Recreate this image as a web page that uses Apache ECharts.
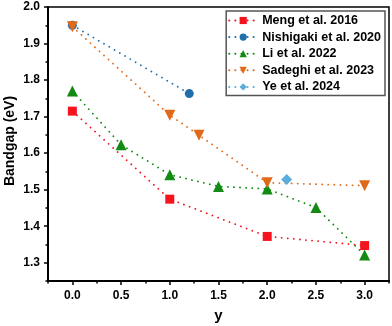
<!DOCTYPE html>
<html>
<head>
<meta charset="utf-8">
<script src="https://cdn.jsdelivr.net/npm/echarts@6/dist/echarts.min.js"></script>
<style>
  html, body { margin: 0; padding: 0; background: #fff; }
  #chart { width: 392px; height: 326px; }
</style>
</head>
<body>
<div id="chart"></div>
<script>
// data
var mengX = [0, 1, 2, 3];
var mengY = [1.715, 1.474, 1.372, 1.347];
var nishigakiX = [0, 1.2];
var nishigakiY = [1.950, 1.763];
var liX = [0, 0.5, 1, 1.5, 2, 2.5, 3];
var liY = [1.770, 1.623, 1.541, 1.509, 1.502, 1.451, 1.321];
var sadeghiX = [0, 1, 1.3, 2, 3];
var sadeghiY = [1.946, 1.704, 1.649, 1.519, 1.511];
var yeX = [2.2];
var yeY = [1.528];

var xMajor = [0, 0.5, 1, 1.5, 2, 2.5, 3];
var xMinor = [-0.25, 0.25, 0.75, 1.25, 1.75, 2.25, 2.75, 3.25];
var yMajor = [1.3, 1.4, 1.5, 1.6, 1.7, 1.8, 1.9, 2.0];
var yMinor = [1.25, 1.35, 1.45, 1.55, 1.65, 1.75, 1.85, 1.95];

function pairs(xs, ys) {
  var out = [];
  for (var i = 0; i < xs.length; i++) {
    out.push([xs[i], ys[i]]);
  }
  return out;
}

var labelFont = {
  fontFamily: "Liberation Sans, Arial",
  fontWeight: "bold",
  fontSize: 12,
  color: "#000"
};

function mkSeries(name, xs, ys, color, symbol, size, rotate) {
  return {
    name: name,
    type: "line",
    data: pairs(xs, ys),
    symbol: symbol,
    symbolSize: size,
    symbolRotate: rotate || 0,
    xAxisIndex: 0,
    yAxisIndex: 0,
    itemStyle: { color: color },
    lineStyle: { color: color, width: 1.8, type: [0.1, 6], cap: "round" },
    emphasis: { disabled: true },
    animation: false
  };
}

var myChart = echarts.init(document.getElementById("chart"));
var option = {
  animation: false,
  grid: {
    left: 48,
    right: 3,
    top: 7,
    bottom: 45,
    containLabel: false,
    outerBoundsMode: "none",
    show: true,
    borderColor: "#000",
    borderWidth: 1.5,
    backgroundColor: "#fff"
  },
  legend: {
    orient: "vertical",
    right: 7,
    top: 11,
    padding: [3, 4, 2, 2],
    itemGap: 3.6,
    itemWidth: 28,
    itemHeight: 9,
    backgroundColor: "#fff",
    borderColor: "#555",
    borderWidth: 1.5,
    borderRadius: 0,
    textStyle: {
      fontFamily: "Liberation Sans, Arial",
      fontWeight: "bold",
      fontSize: 12.5,
      color: "#000"
    },
    data: [
      "Meng et al. 2016",
      "Nishigaki et al. 2020",
      "Li et al. 2022",
      "Sadeghi et al. 2023",
      "Ye et al. 2024"
    ]
  },
  xAxis: [
    {
      type: "value",
      min: -0.25,
      max: 3.25,
      name: "y",
      nameLocation: "middle",
      nameGap: 27,
      nameMoveOverlap: false,
      nameTextStyle: {
        fontFamily: "Liberation Sans, Arial",
        fontWeight: "bold",
        fontSize: 15,
        color: "#000"
      },
      axisLine: { show: true, onZero: false, lineStyle: { color: "#000", width: 2 } },
      axisTick: { show: true, inside: false, length: 4, customValues: xMajor, lineStyle: { color: "#000", width: 1.5 } },
      axisLabel: {
        customValues: xMajor,
        margin: 9,
        formatter: function(v) { return v.toFixed(1); },
        fontFamily: labelFont.fontFamily,
        fontWeight: labelFont.fontWeight,
        fontSize: labelFont.fontSize,
        color: labelFont.color
      },
      splitLine: { show: false }
    },
    {
      type: "value",
      min: -0.25,
      max: 3.25,
      position: "bottom",
      offset: 0,
      axisLine: { show: false, onZero: false },
      axisTick: { show: true, inside: false, length: 2.5, customValues: xMinor, lineStyle: { color: "#000", width: 1.5 } },
      axisLabel: { show: false },
      splitLine: { show: false }
    }
  ],
  yAxis: [
    {
      type: "value",
      min: 1.25,
      max: 2.0,
      name: "Bandgap (eV)",
      nameLocation: "middle",
      nameGap: 31,
      nameMoveOverlap: false,
      nameTextStyle: {
        fontFamily: "Liberation Sans, Arial",
        fontWeight: "bold",
        fontSize: 14,
        color: "#000",
        padding: [0, 0, 0, 6]
      },
      axisLine: { show: true, onZero: false, lineStyle: { color: "#000", width: 2 } },
      axisTick: { show: true, inside: false, length: 4, customValues: yMajor, lineStyle: { color: "#000", width: 1.5 } },
      axisLabel: {
        customValues: yMajor,
        margin: 8,
        formatter: function(v) { return v.toFixed(1); },
        fontFamily: labelFont.fontFamily,
        fontWeight: labelFont.fontWeight,
        fontSize: labelFont.fontSize,
        color: labelFont.color
      },
      splitLine: { show: false }
    },
    {
      type: "value",
      min: 1.25,
      max: 2.0,
      position: "left",
      offset: 0,
      axisLine: { show: false, onZero: false },
      axisTick: { show: true, inside: false, length: 2.5, customValues: yMinor, lineStyle: { color: "#000", width: 1.5 } },
      axisLabel: { show: false },
      splitLine: { show: false }
    }
  ],
  series: [
    mkSeries("Meng et al. 2016", mengX, mengY, "#f5141e", "rect", 9),
    mkSeries("Nishigaki et al. 2020", nishigakiX, nishigakiY, "#1f6fab", "circle", 9),
    mkSeries("Li et al. 2022", liX, liY, "#138a13", "triangle", 11),
    mkSeries("Sadeghi et al. 2023", sadeghiX, sadeghiY, "#e0691a", "triangle", 11, 180),
    mkSeries("Ye et al. 2024", yeX, yeY, "#5aaedc", "diamond", 11)
  ]
};
myChart.setOption(option);
window.addEventListener("resize", function() {
  myChart.resize();
});
</script>
</body>
</html>
